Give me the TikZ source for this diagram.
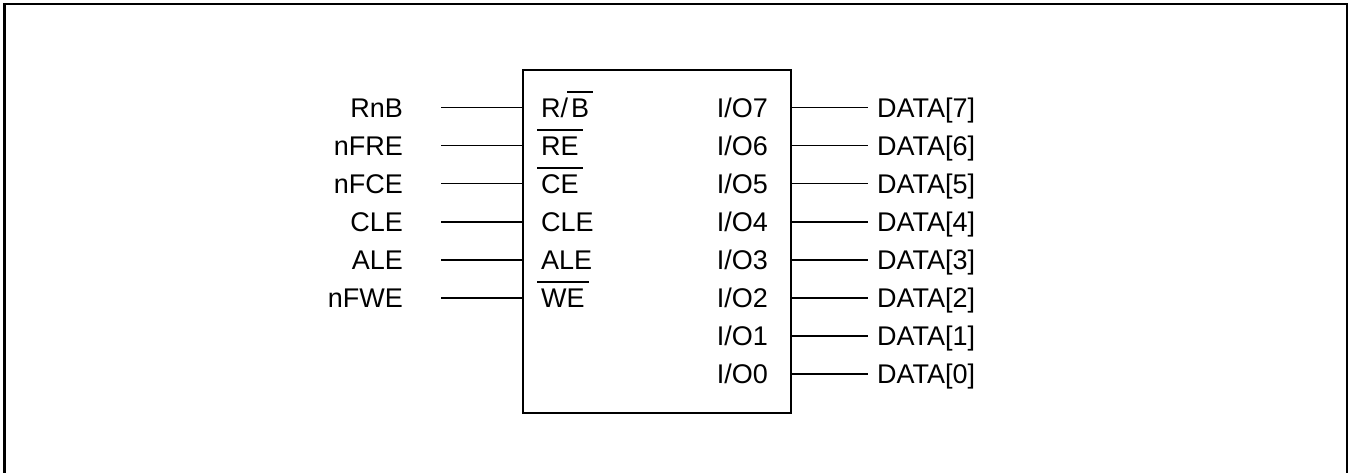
\documentclass[tikz,border=0pt]{standalone}
\usepackage{fontspec}
\setmainfont{Liberation Sans}
% active-low signal name with a bar over it
\newcommand{\nsig}[1]{\setbox0\hbox{#1}\kern-4pt\rlap{\rule[24.5pt]{\dimexpr\wd0+8pt\relax}{1.8pt}}\kern4pt\box0}
\begin{document}
\begin{tikzpicture}[x=1pt,y=-1pt,
        pin/.style={line width=1.6pt},
        sig/.style={inner sep=0pt,text height=19.3pt,text depth=0pt,font=\fontsize{27}{32}\selectfont}]
        \useasboundingbox (0,0) rectangle (1354,473);
        % outer frame, open at the bottom
        \draw [line width=2.3pt] (4.5,480) -- (4.5,4.3) -- (1346.8,4.3) -- (1346.8,480);
        % the flash chip
        \node [draw,line width=1.8pt,inner sep=0pt,anchor=north west,
               minimum width=268pt,minimum height=343pt] (chip) at (522,69) {};
        % control lines
        \foreach \name/\pn [count=\i from 0] in {RnB/{R/\kern3pt\nsig{B}},nFRE/\nsig{RE},
                nFCE/\nsig{CE},CLE/CLE,ALE/ALE,nFWE/\nsig{WE}}
        {
            \node [sig,anchor=east] (\name) at (403,107.4+38.1*\i) {\name};
            \coordinate (\name-w) at (441,107.4+38.1*\i);
            \node [sig,anchor=west] (\name-p) at (541,107.4+38.1*\i) {\pn};
            \draw [pin] (\name-w) -- (\name-w -| chip.west);
        }
        % data lines
        \foreach \k [count=\i from 0] in {7,6,...,0}
        {
            \node [sig,anchor=east] (io\k) at (768,107.4+38.1*\i) {I/O\k};
            \node [sig,anchor=west] (data\k) at (877,107.4+38.1*\i) {DATA[\k]};
            \coordinate (data\k-e) at (868,107.4+38.1*\i);
            \draw [pin] (data\k-e -| chip.east) -- (data\k-e);
        }
\end{tikzpicture}
\end{document}
